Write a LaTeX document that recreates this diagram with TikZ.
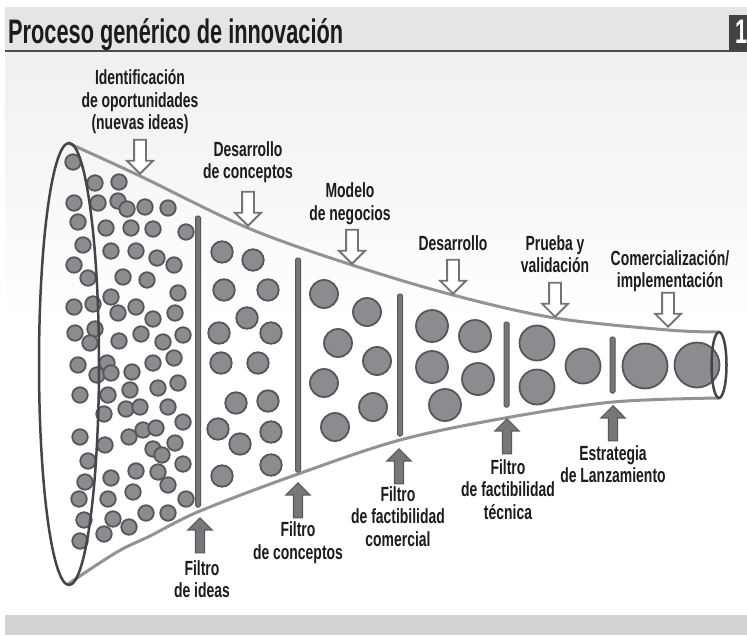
\documentclass[tikz,border=0pt]{standalone}
\usepackage{fontspec}
\setmainfont{Liberation Sans}
\newfontfamily\lblfont{Liberation Sans}[FakeStretch=0.68]
\newfontfamily\titlefont{Liberation Sans}[FakeStretch=0.64]
\usetikzlibrary{shapes.arrows}

\definecolor{dotfill}{RGB}{139,140,143}
\definecolor{dotline}{RGB}{86,87,90}
\definecolor{funnelline}{RGB}{146,147,149}
\definecolor{rimline}{RGB}{68,69,73}
\definecolor{barfill}{RGB}{118,119,122}
\definecolor{textdark}{RGB}{28,28,30}
\definecolor{titleband}{RGB}{229,229,230}
\definecolor{footband}{RGB}{209,210,212}
\definecolor{numbox}{RGB}{66,66,68}

\tikzset{
  lbl/.style={font=\lblfont\bfseries\fontsize{20.5}{22.5}\selectfont, text=textdark, align=center, inner sep=0pt},
  dot/.style={circle, draw=dotline, fill=dotfill, line width=1.8pt, inner sep=0pt},
  fbar/.style={draw=dotline, fill=barfill, line width=1pt, rounded corners=1.5pt},
  downarrow/.style={single arrow, draw=black!55, fill=white, line width=1.8pt, inner sep=5pt,
    minimum height=34pt, minimum width=24pt, single arrow head extend=7pt, shape border rotate=270, anchor=tip},
  uparrow/.style={single arrow, draw=black!65, fill=barfill, line width=1.2pt, inner sep=4pt,
    minimum height=35pt, minimum width=23pt, single arrow head extend=7.5pt, shape border rotate=90, anchor=tip}
}

\begin{document}
\begin{tikzpicture}[x=1pt,y=-1pt]
\useasboundingbox (0,0) rectangle (747,635);
% backgrounds
\fill[white] (0,0) rectangle (747,635);
\shade[top color=black!6, bottom color=white] (5,52) rectangle (747,320);
\fill[titleband] (5,7) rectangle (747,51);
\draw[line width=2pt, black!70] (5,51) -- (747,51);
\fill[numbox] (729,15) rectangle (747,51);
\fill[footband] (5,615) rectangle (747,635);

\node [anchor=base west, inner sep=0pt, font=\titlefont\bfseries\fontsize{34}{38}\selectfont, text=textdark] (title) at(8,43){Proceso genérico de innovación};
\node [anchor=base west, inner sep=0pt, font=\titlefont\bfseries\fontsize{34}{38}\selectfont, text=white] (num) at(735,43){1};

% funnel
\draw[funnelline, line width=3pt] plot[smooth, tension=0.55] coordinates {(68,143) (140,176) (248,228) (352,265) (453,295) (555,318) (668,330) (719,332)};
\draw[funnelline, line width=3pt] plot[smooth, tension=0.55] coordinates {(68,584) (117,552) (150,536) (200,511) (298,474) (400,440) (505,418) (613,402) (719,398)};

% ideas
\foreach \x/\y [count=\i] in {73/162,95/183,119/182,74/203,98/203,118/201,127/209,145/207,168/208,78/222,106/228,131/228,153/229,186/232,83/245,111/251,136/251,157/258,174/265,74/265,88/278,123/277,147/280,178/293,111/297,74/307,93/304,118/313,136/307,153/319,175/313,75/333,95/329,90/343,119/341,141/334,163/342,183/335,174/358,153/363,78/365,107/363,97/375,111/373,132/372,130/390,158/388,178/383,80/395,108/395,104/414,126/409,140/407,168/407,183/422,143/430,156/428,129/437,80/437,105/445,175/443,153/449,162/455,183/464,88/461,136/471,158/472,168/485,111/478,85/482,133/492,79/499,108/499,186/499,84/520,113/519,146/513,168/513,129/527,104/534,80/541}
  \node [dot, minimum size=15.5pt] (idea\i) at(\x,\y){};

% conceptos
\foreach \x/\y [count=\i] in {222/252,253/260,224/290,268/290,247/318,219/333,271/333,221/363,258/363,236/403,268/401,218/429,271/432,240/444,222/476,271/465}
  \node [dot, minimum size=21.5pt] (conc\i) at(\x,\y){};

% negocios
\foreach \x/\y [count=\i] in {324/294,367/312,338/343,377/361,324/383,373/407,335/427}
  \node [dot, minimum size=28pt] (neg\i) at(\x,\y){};

% desarrollo
\foreach \x/\y [count=\i] in {432/326,475/336,432/367,478/379,445/405}
  \node [dot, minimum size=32pt] (des\i) at(\x,\y){};

\node [dot, minimum size=35pt] (val1) at(537,343){};
\node [dot, minimum size=35pt] (val2) at(537,387){};
\node [dot, minimum size=35pt] (val3) at(583,366){};
\node [dot, minimum size=45pt] (com1) at(645,366){};
\node [dot, minimum size=45pt] (com2) at(697,365){};

% filtros
\draw[fbar] (195.5,216) rectangle (200.5,507);
\draw[fbar] (295.5,258) rectangle (300.5,472);
\draw[fbar] (397.5,294) rectangle (402.5,436);
\draw[fbar] (504,322) rectangle (509,407);
\draw[fbar] (610,337) rectangle (615,393);

% bocas del embudo
\draw[rimline, line width=2.5pt] (69,364) ellipse [x radius=30, y radius=221];
\draw[rimline, line width=2.5pt] (719,365) ellipse [x radius=7.5, y radius=33];

% etapas
\node [downarrow] (a1) at(140,175){};
\node [downarrow] (a2) at(248,227){};
\node [downarrow] (a3) at(352,265){};
\node [downarrow] (a4) at(453,295){};
\node [downarrow] (a5) at(555,318){};
\node [downarrow] (a6) at(668,328){};

\node [lbl] (ident) at(140,102){Identificación\\de oportunidades\\(nuevas ideas)};
\node [lbl] (desconc) at(248,162){Desarrollo\\de conceptos};
\node [lbl] (modelo) at(350,203.5){Modelo\\de negocios};
\node [lbl] (desar) at(453,243){Desarrollo};
\node [lbl] (prueba) at(555,254){Prueba y\\validación};
\node [lbl] (comerc) at(670,271){Comercialización/\\implementación};

% filtros (abajo)
\node [uparrow] (f1) at(200,517){};
\node [uparrow] (f2) at(298,482){};
\node [uparrow] (f3) at(399,448){};
\node [uparrow] (f4) at(507,418){};
\node [uparrow] (f5) at(613,405){};

\node [lbl] (fideas) at(202,579){Filtro\\de ideas};
\node [lbl] (fconc) at(298,542.5){Filtro\\de conceptos};
\node [lbl] (fcom) at(398,516.5){Filtro\\de factibilidad\\comercial};
\node [lbl] (ftec) at(508,489.5){Filtro\\de factibilidad\\técnica};
\node [lbl] (estr) at(613,464){Estrategia\\de Lanzamiento};
\end{tikzpicture}
\end{document}
